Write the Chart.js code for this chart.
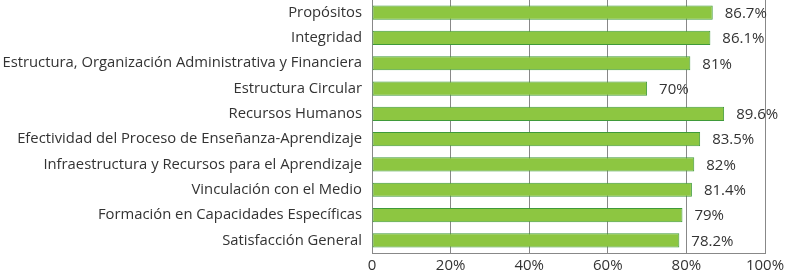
<!DOCTYPE html>
<html>
<head>
<meta charset="utf-8">
<script src="https://cdn.jsdelivr.net/npm/chart.js@4/dist/chart.umd.min.js"></script>
<style>
html,body{margin:0;padding:0;background:#fff;}
#wrap{width:786px;height:274px;position:relative;}
</style>
</head>
<body>
<div id="wrap"><canvas id="c" width="786" height="274"></canvas></div>
<script>
const categories = [
  "Propósitos",
  "Integridad",
  "Estructura, Organización Administrativa y Financiera",
  "Estructura Circular",
  "Recursos Humanos",
  "Efectividad del Proceso de Enseñanza-Aprendizaje",
  "Infraestructura y Recursos para el Aprendizaje",
  "Vinculación con el Medio",
  "Formación en Capacidades Específicas",
  "Satisfacción General"
];
const values = [86.7, 86.1, 81, 70, 89.6, 83.5, 82, 81.4, 79, 78.2];
const tickLabels = ["0", "20%", "40%", "60%", "80%", "100%"];

const FONT = "'Open Sans', sans-serif";
const TEXT = "#333333";

const valueLabels = {
  id: 'valueLabels',
  afterDatasetsDraw(chart) {
    const ctx = chart.ctx;
    const meta = chart.getDatasetMeta(0);
    ctx.save();
    ctx.font = "15px " + FONT;
    ctx.fillStyle = TEXT;
    ctx.textAlign = 'left';
    ctx.textBaseline = 'middle';
    meta.data.forEach((el, i) => {
      ctx.fillText(values[i] + '%', el.x + 12, el.y + 1);
    });
    ctx.restore();
  }
};

new Chart(document.getElementById('c'), {
  type: 'bar',
  data: {
    labels: categories,
    datasets: [{
      data: values,
      backgroundColor: '#8dc641',
      borderColor: '#3f9a3a',
      borderWidth: 1,
      borderSkipped: false,
      barPercentage: 0.56,
      categoryPercentage: 1.0
    }]
  },
  options: {
    indexAxis: 'y',
    responsive: false,
    animation: false,
    devicePixelRatio: 1,
    layout: { padding: { left: 0, right: 21, top: 0, bottom: 0 } },
    plugins: { legend: { display: false }, tooltip: { enabled: false } },
    scales: {
      x: {
        min: 0, max: 100,
        ticks: {
          stepSize: 20,
          padding: 4,
          color: TEXT,
          font: { family: FONT, size: 15 },
          callback: (v) => tickLabels[Math.round(v / 20)]
        },
        grid: { color: '#888888', lineWidth: 1, drawTicks: false },
        border: { color: '#888888', width: 1 },
        afterFit: (s) => { s.height = 21; s.paddingLeft = 0; s.paddingRight = 0; }
      },
      y: {
        ticks: {
          padding: 10,
          color: TEXT,
          font: { family: FONT, size: 14.8 }
        },
        grid: { display: false, drawTicks: false },
        border: { color: '#888888', width: 1 },
        afterFit: (s) => { s.width = 372; s.paddingTop = 0; s.paddingBottom = 0; }
      }
    }
  },
  plugins: [valueLabels]
});
</script>
</body>
</html>
